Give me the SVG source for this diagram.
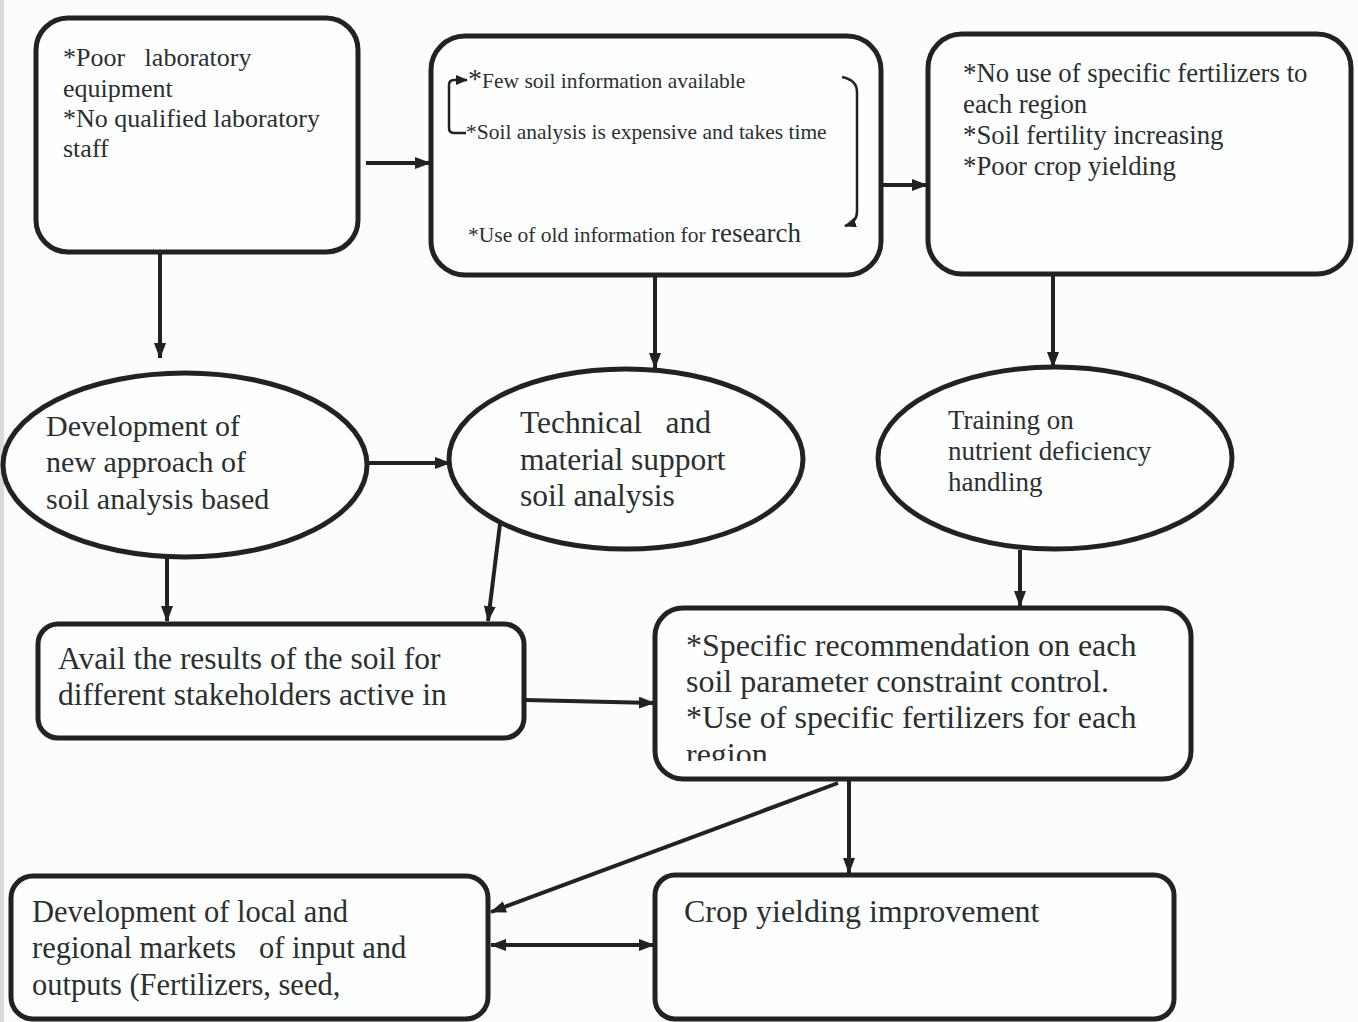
<svg xmlns="http://www.w3.org/2000/svg" width="1358" height="1022" viewBox="0 0 1358 1022">
<defs>
<style>
.box{fill:#fdfefe;stroke:#1f2322;stroke-width:5}
.t{font-family:"Liberation Serif","Times New Roman",serif;fill:#2b302f;white-space:pre}
.c{fill:none;stroke:#1f2322;stroke-width:4}
.thin{fill:none;stroke:#1f2322;stroke-width:2.5}
</style>
<marker id="ah" viewBox="0 0 16 12" refX="15" refY="6" markerWidth="16" markerHeight="12" markerUnits="userSpaceOnUse" orient="auto-start-reverse"><path d="M0,0 L16,6 L0,12 Z" fill="#1f2322"/></marker>
<marker id="as" viewBox="0 0 12 10" refX="11" refY="5" markerWidth="12" markerHeight="10" markerUnits="userSpaceOnUse" orient="auto"><path d="M0,0 L12,5 L0,10 Z" fill="#1f2322"/></marker>
<clipPath id="clipH"><rect x="657" y="611" width="532" height="150"/></clipPath>
</defs>
<rect width="1358" height="1022" fill="#fbfcfc"/>
<rect x="0" y="0" width="4" height="1022" fill="#d8dadb"/>

<g id="connectors">
<line class="c" x1="366" y1="163" x2="430" y2="163" marker-end="url(#ah)"/>
<line class="c" x1="883" y1="185" x2="927" y2="185" marker-end="url(#ah)"/>
<line class="c" x1="160" y1="253" x2="160" y2="358" marker-end="url(#ah)"/>
<line class="c" x1="655" y1="276" x2="655" y2="368" marker-end="url(#ah)"/>
<line class="c" x1="1053" y1="276" x2="1053" y2="367" marker-end="url(#ah)"/>
<line class="c" x1="368" y1="463" x2="450" y2="463" marker-end="url(#ah)"/>
<line class="c" x1="167" y1="558" x2="167" y2="621" marker-end="url(#ah)"/>
<line class="c" x1="500" y1="524" x2="488" y2="621" marker-end="url(#ah)"/>
<line class="c" x1="1020" y1="550" x2="1020" y2="606" marker-end="url(#ah)"/>
<line class="c" x1="525" y1="700" x2="654" y2="703" marker-end="url(#ah)"/>
<line class="c" x1="849" y1="781" x2="849" y2="873" marker-end="url(#ah)"/>
<line class="c" x1="838" y1="783" x2="491" y2="912" marker-end="url(#ah)"/>
<line class="c" x1="491" y1="945" x2="654" y2="945" marker-start="url(#ah)" marker-end="url(#ah)"/>
</g>

<g id="nodeA">
<rect class="box" x="36" y="18" width="322" height="234" rx="32"/>
<text class="t" font-size="26"><tspan x="63" y="66">*Poor   laboratory</tspan><tspan x="63" y="97">equipment</tspan><tspan x="63" y="127">*No qualified laboratory</tspan><tspan x="63" y="157">staff</tspan></text>
</g>

<g id="nodeB">
<rect class="box" x="431" y="36" width="450" height="239" rx="34"/>
<path class="thin" d="M466,133 L454,133 Q449,133 449,128 L449,85 Q449,80 454,80 L467,80" marker-end="url(#as)"/>
<path class="thin" d="M842,77 Q857,80 857,92 L857,212 Q857,222 845,226" marker-end="url(#as)"/>
<text class="t" x="468" y="88"><tspan font-size="28">*</tspan><tspan font-size="21.5">Few soil information available</tspan></text>
<text class="t" x="466" y="139" font-size="21.5">*Soil analysis is expensive and takes time</text>
<text class="t" x="468" y="242"><tspan font-size="21.5">*Use of old information for </tspan><tspan font-size="27">research</tspan></text>
</g>

<g id="nodeC">
<rect class="box" x="928" y="34" width="423" height="240" rx="34"/>
<text class="t" font-size="26.8"><tspan x="963" y="82">*No use of specific fertilizers to</tspan><tspan x="963" y="113">each region</tspan><tspan x="963" y="144">*Soil fertility increasing</tspan><tspan x="963" y="175">*Poor crop yielding</tspan></text>
</g>

<g id="nodeD">
<ellipse class="box" cx="185" cy="465" rx="182" ry="92"/>
<text class="t" font-size="30"><tspan x="46" y="436">Development of</tspan><tspan x="46" y="472">new approach of</tspan><tspan x="46" y="509">soil analysis based</tspan></text>
</g>

<g id="nodeE">
<ellipse class="box" cx="626" cy="459" rx="177" ry="90"/>
<text class="t" font-size="31.5"><tspan x="520" y="433">Technical   and</tspan><tspan x="520" y="470">material support</tspan><tspan x="520" y="506">soil analysis</tspan></text>
</g>

<g id="nodeF">
<ellipse class="box" cx="1055" cy="458" rx="177" ry="91"/>
<text class="t" font-size="27"><tspan x="948" y="429">Training on</tspan><tspan x="948" y="460">nutrient deficiency</tspan><tspan x="948" y="491">handling</tspan></text>
</g>

<g id="nodeG">
<rect class="box" x="38" y="624" width="486" height="114" rx="20"/>
<text class="t" font-size="31.5"><tspan x="58" y="669">Avail the results of the soil for</tspan><tspan x="58" y="705">different stakeholders active in</tspan></text>
</g>

<g id="nodeH">
<rect class="box" x="655" y="608" width="536" height="171" rx="28"/>
<text class="t" font-size="32" clip-path="url(#clipH)"><tspan x="686" y="656">*Specific recommendation on each</tspan><tspan x="686" y="692">soil parameter constraint control.</tspan><tspan x="686" y="728">*Use of specific fertilizers for each</tspan><tspan x="686" y="765">region</tspan></text>
</g>

<g id="nodeI">
<rect class="box" x="11" y="876" width="477" height="143" rx="22"/>
<text class="t" font-size="30.5"><tspan x="32" y="922">Development of local and</tspan><tspan x="32" y="958">regional markets   of input and</tspan><tspan x="32" y="995">outputs (Fertilizers, seed,</tspan></text>
</g>

<g id="nodeJ">
<rect class="box" x="655" y="875" width="519" height="144" rx="20"/>
<text class="t" font-size="32" x="684" y="922">Crop yielding improvement</text>
</g>
</svg>
